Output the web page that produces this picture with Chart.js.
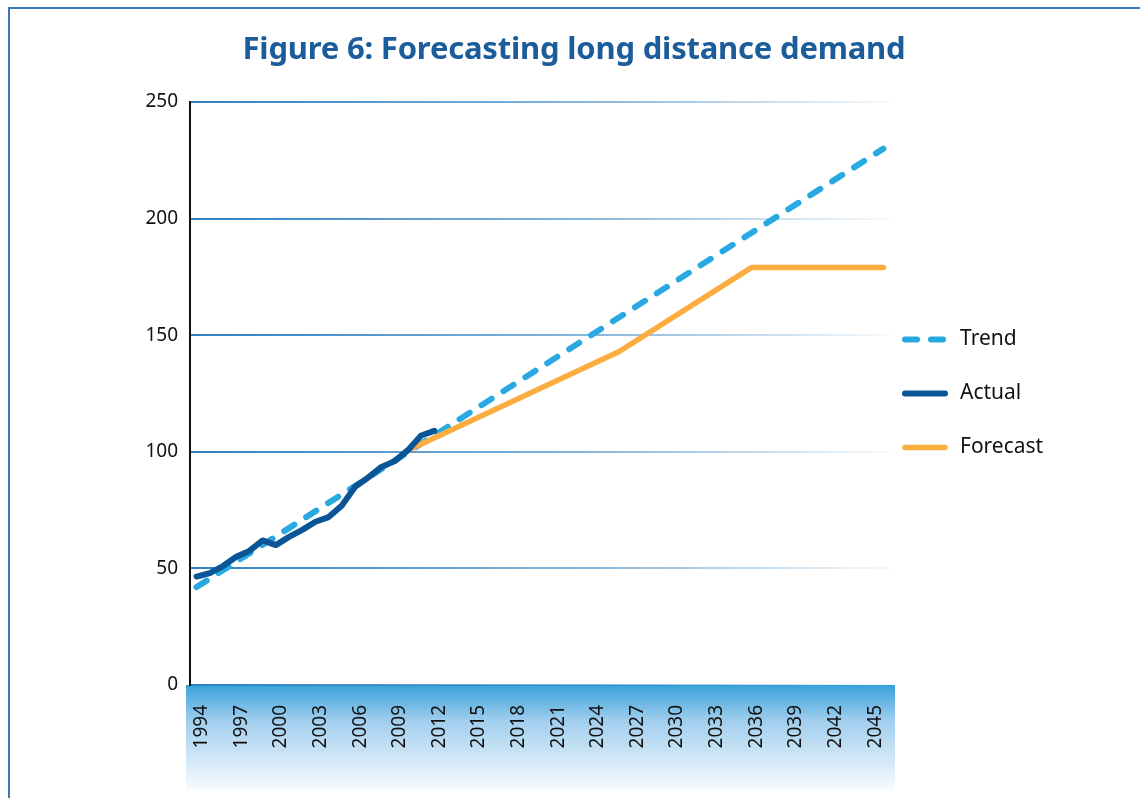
<!DOCTYPE html>
<html>
<head>
<meta charset="utf-8">
<script src="https://cdn.jsdelivr.net/npm/chart.js@4"></script>
<style>
  body { margin: 0; background: #fff; }
  #wrap { position: relative; width: 1140px; height: 798px; overflow: hidden; }
  #frame { position: absolute; left: 8px; top: 7px; width: 1200px; height: 900px;
           border-top: 2px solid #3b79b5; border-left: 2px solid #3b79b5; pointer-events: none; }
  #title { position: absolute; left: 0; top: 29px; width: 1148px; text-align: center;
           font: bold 31px/36px "Noto Sans", sans-serif; color: #1b5c9b; letter-spacing: -0.2px; }
</style>
</head>
<body>
<div id="wrap">
  <canvas id="demandChart" width="1140" height="798"></canvas>
  <div id="title">Figure 6: Forecasting long distance demand</div>
  <div id="frame"></div>
</div>
<script>
const years = ['1994','1995','1996','1997','1998','1999','2000','2001','2002','2003',
  '2004','2005','2006','2007','2008','2009','2010','2011','2012','2013','2014','2015',
  '2016','2017','2018','2019','2020','2021','2022','2023','2024','2025','2026','2027',
  '2028','2029','2030','2031','2032','2033','2034','2035','2036','2037','2038','2039',
  '2040','2041','2042','2043','2044','2045','2046'];

// actual, 1994 - 2012
const actual = [46.5, 48, 51, 55, 57.5, 62, 60, 63.5, 66.5, 70, 72, 77, 85, 89, 93.5, 96, 100.7, 107, 109];

const trendYears = ['1994', '2046'];
const trendValues = [42, 230];

const forecastYears = ['2010', '2026', '2036', '2046'];
const forecastValues = [100.7, 143, 179, 179];

const yTicks = [0, 50, 100, 150, 200, 250];

const tickFont = { family: '"Noto Sans", sans-serif', size: 19 };

// blue band under the x axis
const axisBand = {
  id: 'axisBand',
  beforeDraw(chart) {
    const { ctx, chartArea } = chart;
    const top = chartArea.bottom;
    const g = ctx.createLinearGradient(0, top, 0, top + 105);
    g.addColorStop(0, '#39a2dc');
    g.addColorStop(0.35, '#a3cfee');
    g.addColorStop(1, '#f8fbfe');
    ctx.save();
    ctx.fillStyle = g;
    ctx.fillRect(chartArea.left - 4, top, chartArea.right - chartArea.left + 9, 105);
    ctx.restore();
  }
};

// legend drawn as line samples to the right of the plot
const sideLegend = {
  id: 'sideLegend',
  afterDraw(chart) {
    const { ctx, chartArea } = chart;
    const x = chartArea.right + 15;
    const mid = (chartArea.top + chartArea.bottom) / 2;
    ctx.save();
    chart.data.datasets.forEach((ds, i) => {
      const y = mid + (i - 1) * 54;
      ctx.beginPath();
      ctx.lineWidth = ds.borderWidth;
      ctx.lineCap = 'round';
      ctx.strokeStyle = ds.borderColor;
      ctx.setLineDash(ds.borderDash || []);
      ctx.moveTo(x, y);
      ctx.lineTo(x + 40, y);
      ctx.stroke();
      ctx.setLineDash([]);
      ctx.fillStyle = '#111';
      ctx.font = '21px "Noto Sans", sans-serif';
      ctx.textBaseline = 'middle';
      ctx.fillText(ds.label, x + 55, y);
    });
    ctx.restore();
  }
};

function gridColor(c) {
  const { chart } = c;
  const area = chart.chartArea;
  if (!area) return '#2f80c1';
  const g = chart.ctx.createLinearGradient(area.left, 0, area.right, 0);
  g.addColorStop(0, 'rgba(47,128,193,1)');
  g.addColorStop(0.6, 'rgba(47,128,193,0.55)');
  g.addColorStop(1, 'rgba(47,128,193,0.04)');
  return g;
}

const ctx = document.getElementById('demandChart').getContext('2d');
new Chart(ctx, {
  type: 'line',
  data: {
    labels: years,
    datasets: [
      {
        label: 'Trend',
        data: trendYears.map((yr, i) => ({ x: yr, y: trendValues[i] })),
        borderColor: '#29a9e1',
        borderWidth: 6,
        borderDash: [12, 14],
        order: 2
      },
      {
        label: 'Actual',
        data: actual,
        borderColor: '#0a5596',
        borderWidth: 6,
        order: 0
      },
      {
        label: 'Forecast',
        data: forecastYears.map((yr, i) => ({ x: yr, y: forecastValues[i] })),
        borderColor: '#fbad40',
        borderWidth: 5.5,
        order: 1
      }
    ]
  },
  options: {
    responsive: false,
    animation: false,
    layout: { padding: { left: 0, right: 250, top: 102, bottom: 0 } },
    elements: {
      point: { radius: 0 },
      line: { tension: 0, borderCapStyle: 'round', borderJoinStyle: 'round' }
    },
    plugins: {
      legend: { display: false },
      tooltip: { enabled: false }
    },
    scales: {
      x: {
        offset: true,
        grid: { display: false },
        border: { display: false },
        afterFit: scale => { scale.height = 113; },
        ticks: {
          autoSkip: false,
          minRotation: 90,
          maxRotation: 90,
          padding: 12,
          labelOffset: 5,
          color: '#111',
          font: tickFont,
          callback: function (val, i) {
            return i % 3 === 0 ? this.getLabelForValue(val) : null;
          }
        }
      },
      y: {
        min: 0,
        max: 250,
        afterFit: scale => { scale.width = 190; },
        afterBuildTicks: scale => { scale.ticks = yTicks.map(v => ({ value: v })); },
        border: { color: '#111', width: 2 },
        grid: { color: gridColor, lineWidth: 2, drawTicks: false },
        ticks: { padding: 12, color: '#111', font: tickFont }
      }
    }
  },
  plugins: [axisBand, sideLegend]
});
</script>
</body>
</html>
